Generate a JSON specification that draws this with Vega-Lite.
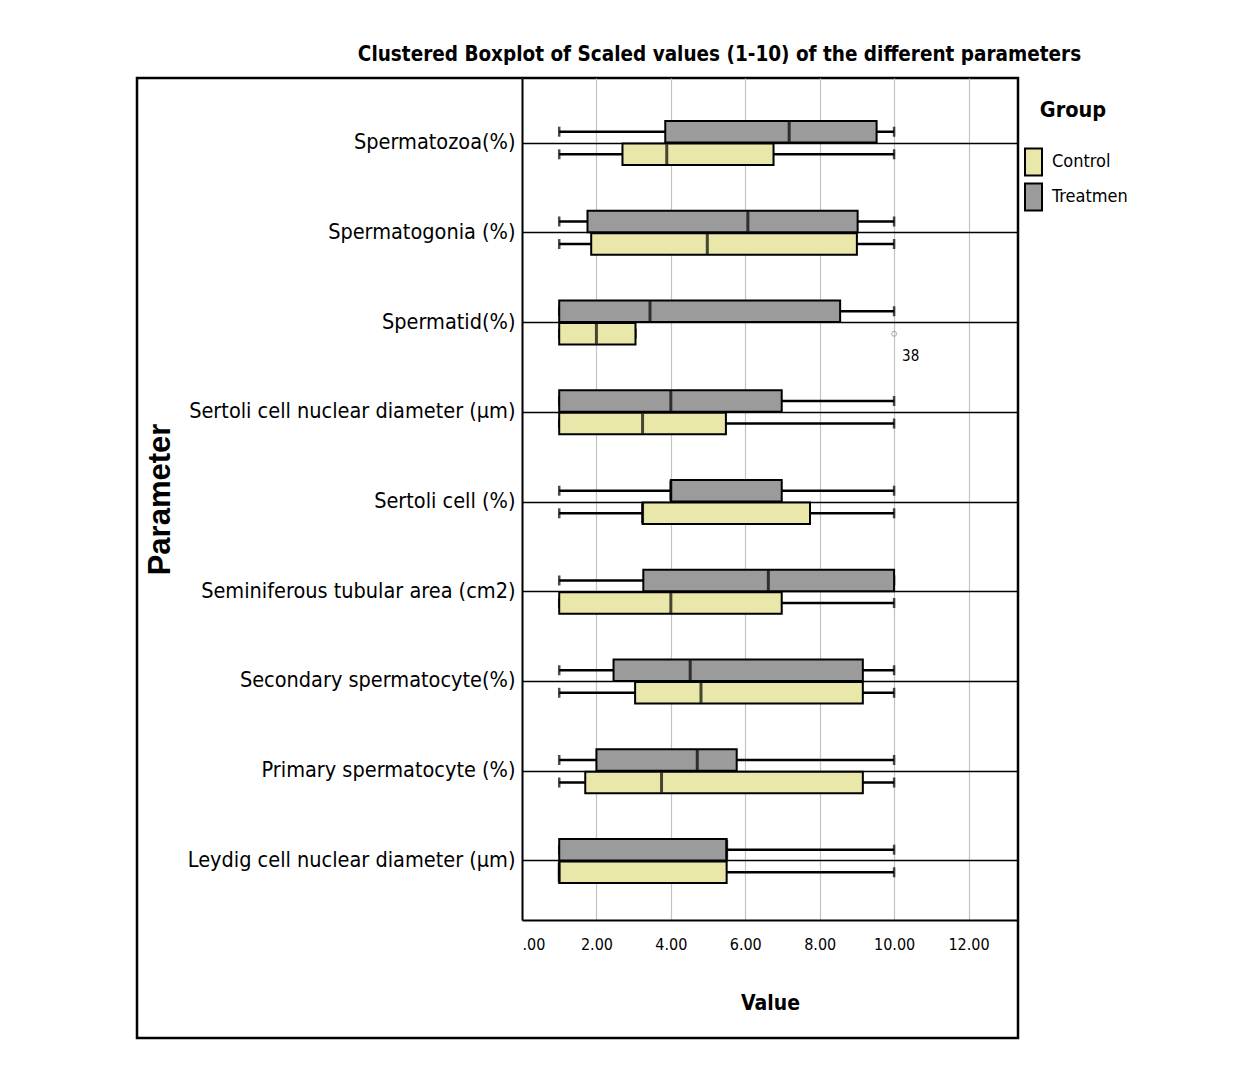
{
  "$schema": "https://vega.github.io/schema/vega-lite/v6.json",
  "width": 881,
  "height": 960,
  "autosize": {"type": "none"},
  "padding": {"left": 137, "top": 78, "right": 228, "bottom": 41},
  "background": "white",
  "title": {
    "text": "Clustered Boxplot of Scaled values (1-10) of the different parameters",
    "anchor": "middle",
    "frame": "group",
    "dx": 142,
    "offset": 13,
    "font": "'Liberation Sans Narrow', 'Arial Narrow', 'DejaVu Sans Condensed', Roboto, sans-serif",
    "fontSize": 20.5,
    "fontWeight": "bold",
    "color": "black"
  },
  "config": {
    "view": {"stroke": "black", "strokeWidth": 2.5},
    "font": "'Liberation Sans Narrow', 'Arial Narrow', 'DejaVu Sans Condensed', Roboto, sans-serif"
  },
  "datasets": {
    "boxes": [
      {"param": "Spermatozoa(%)", "group": "Treatmen", "min": 1, "q1": 3.85, "median": 7.18, "q3": 9.53, "max": 10},
      {"param": "Spermatozoa(%)", "group": "Control", "min": 1, "q1": 2.7, "median": 3.89, "q3": 6.76, "max": 10},
      {"param": "Spermatogonia (%)", "group": "Treatmen", "min": 1, "q1": 1.76, "median": 6.07, "q3": 9.02, "max": 10},
      {"param": "Spermatogonia (%)", "group": "Control", "min": 1, "q1": 1.86, "median": 4.98, "q3": 9.0, "max": 10},
      {"param": "Spermatid(%)", "group": "Treatmen", "min": 1, "q1": 1, "median": 3.44, "q3": 8.55, "max": 10},
      {"param": "Spermatid(%)", "group": "Control", "min": 1, "q1": 1, "median": 2.0, "q3": 3.05, "max": 3.05},
      {"param": "Sertoli cell nuclear diameter (µm)", "group": "Treatmen", "min": 1, "q1": 1, "median": 4.0, "q3": 6.98, "max": 10},
      {"param": "Sertoli cell nuclear diameter (µm)", "group": "Control", "min": 1, "q1": 1, "median": 3.24, "q3": 5.48, "max": 10},
      {"param": "Sertoli cell (%)", "group": "Treatmen", "min": 1, "q1": 4.0, "median": 4.0, "q3": 6.98, "max": 10},
      {"param": "Sertoli cell (%)", "group": "Control", "min": 1, "q1": 3.24, "median": 3.24, "q3": 7.74, "max": 10},
      {"param": "Seminiferous tubular area (cm2)", "group": "Treatmen", "min": 1, "q1": 3.26, "median": 6.62, "q3": 10, "max": 10},
      {"param": "Seminiferous tubular area (cm2)", "group": "Control", "min": 1, "q1": 1, "median": 4.0, "q3": 6.98, "max": 10},
      {"param": "Secondary spermatocyte(%)", "group": "Treatmen", "min": 1, "q1": 2.46, "median": 4.52, "q3": 9.16, "max": 10},
      {"param": "Secondary spermatocyte(%)", "group": "Control", "min": 1, "q1": 3.04, "median": 4.81, "q3": 9.16, "max": 10},
      {"param": "Primary spermatocyte (%)", "group": "Treatmen", "min": 1, "q1": 2.0, "median": 4.71, "q3": 5.77, "max": 10},
      {"param": "Primary spermatocyte (%)", "group": "Control", "min": 1, "q1": 1.7, "median": 3.75, "q3": 9.16, "max": 10},
      {"param": "Leydig cell nuclear diameter (µm)", "group": "Treatmen", "min": 1, "q1": 1, "median": 5.5, "q3": 5.5, "max": 10},
      {"param": "Leydig cell nuclear diameter (µm)", "group": "Control", "min": 1, "q1": 1, "median": 1, "q3": 5.5, "max": 10}
    ],
    "outliers": [
      {"param": "Spermatid(%)", "group": "Control", "value": 10, "case": "38"}
    ]
  },
  "data": {"name": "boxes"},
  "encoding": {
    "y": {
      "field": "param",
      "type": "nominal",
      "scale": {
        "domain": ["Spermatozoa(%)", "Spermatogonia (%)", "Spermatid(%)", "Sertoli cell nuclear diameter (µm)", "Sertoli cell (%)", "Seminiferous tubular area (cm2)", "Secondary spermatocyte(%)", "Primary spermatocyte (%)", "Leydig cell nuclear diameter (µm)"],
        "range": [0, 842],
        "paddingInner": 0.5097,
        "paddingOuter": 0.4457,
        "align": 0.5375
      },
      "axis": {
        "offset": -385,
        "ticks": false,
        "domainColor": "black",
        "domainWidth": 2,
        "grid": true,
        "gridColor": "black",
        "gridWidth": 1.5,
        "bandPosition": 0.5,
        "labelFontSize": 21.5,
        "labelColor": "black",
        "labelPadding": 7,
        "labelLimit": 600,
        "title": "Parameter",
        "titleFont": "Liberation Sans",
        "titleFontSize": 31,
        "titleFontWeight": "bold",
        "titleColor": "black",
        "titleAngle": -90,
        "titleX": -362,
        "titleY": 421,
        "titleAlign": "center",
        "titleBaseline": "middle"
      }
    },
    "yOffset": {
      "field": "group",
      "type": "nominal",
      "scale": {"domain": ["Treatmen", "Control"], "paddingInner": 0.05}
    }
  },
  "layer": [
    {
      "mark": {"type": "rule", "color": "black", "strokeWidth": 2.5},
      "encoding": {
        "x": {
          "field": "min",
          "type": "quantitative",
          "title": "Value",
          "scale": {"domain": [0, 13.33], "range": [385, 881], "nice": false, "zero": false},
          "axis": {
            "orient": "top",
            "offset": -842,
            "values": [0, 2, 4, 6, 8, 10, 12],
            "labelExpr": "datum.value == 0 ? '.00' : format(datum.value, '.2f')",
            "ticks": false,
            "domain": true,
            "domainColor": "black",
            "domainWidth": 2,
            "grid": true,
            "gridColor": "#c4c4c4",
            "gridWidth": 1.2,
            "labelFontSize": 16,
            "labelColor": "black",
            "labelBaseline": "top",
            "labelPadding": -16,
            "titleFontSize": 21,
            "titleFontWeight": "bold",
            "titleColor": "black",
            "titleY": 83,
            "titleBaseline": "middle"
          }
        },
        "x2": {"field": "max"}
      }
    },
    {
      "mark": {"type": "tick", "color": "black", "thickness": 2.5, "size": 10},
      "encoding": {"x": {"field": "min", "type": "quantitative", "title": "Value"}}
    },
    {
      "mark": {"type": "tick", "color": "black", "thickness": 2.5, "size": 10},
      "encoding": {"x": {"field": "max", "type": "quantitative", "title": "Value"}}
    },
    {
      "mark": {"type": "bar", "stroke": "black", "strokeWidth": 2},
      "encoding": {
        "x": {"field": "q1", "type": "quantitative", "title": "Value"},
        "x2": {"field": "q3"},
        "fill": {
          "field": "group",
          "type": "nominal",
          "scale": {"domain": ["Control", "Treatmen"], "range": ["#e9e7a9", "#9b9b9b"]},
          "legend": {
            "title": "Group",
            "orient": "none",
            "legendX": 882,
            "legendY": 22,
            "padding": 0,
            "titleFontSize": 21.5,
            "titleFontWeight": "bold",
            "titleColor": "black",
            "titleAnchor": "middle",
            "titlePadding": 26,
            "labelFontSize": 18,
            "labelColor": "black",
            "labelOffset": 4,
            "symbolType": "M-0.63,-1H0.63V1H-0.63Z",
            "symbolSize": 729,
            "symbolStrokeColor": "black",
            "symbolStrokeWidth": 2,
            "symbolOpacity": 1,
            "rowPadding": 0
          }
        }
      }
    },
    {
      "mark": {"type": "tick", "color": "black", "thickness": 3, "size": 20},
      "encoding": {"x": {"field": "median", "type": "quantitative", "title": "Value"}}
    },
    {
      "data": {"name": "outliers"},
      "mark": {"type": "point", "shape": "circle", "size": 25, "filled": false, "stroke": "#888888", "strokeWidth": 1},
      "encoding": {"x": {"field": "value", "type": "quantitative", "title": "Value"}}
    },
    {
      "data": {"name": "outliers"},
      "mark": {"type": "text", "align": "left", "baseline": "middle", "dx": 8, "dy": 22, "fontSize": 15, "color": "black"},
      "encoding": {
        "x": {"field": "value", "type": "quantitative", "title": "Value"},
        "text": {"field": "case"}
      }
    }
  ]
}
